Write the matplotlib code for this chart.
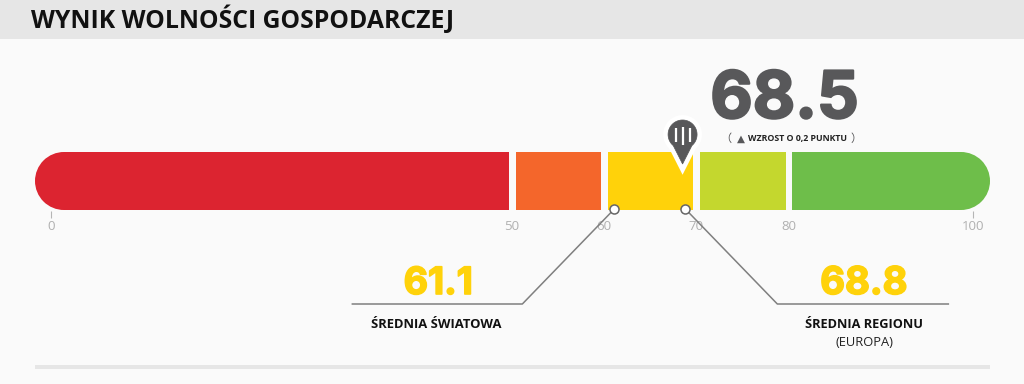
import matplotlib
matplotlib.use('Agg')
import matplotlib.pyplot as plt
import matplotlib.patheffects as pe
from matplotlib.patches import Ellipse, Polygon
import numpy as np

seg_start = [0, 50, 60, 70, 80]
seg_end = [50, 60, 70, 80, 100]
seg_colors = ['#DC2430', '#F4662B', '#FFD20A', '#C4D72E', '#6EBE4A']
tick_vals = [0, 50, 60, 70, 80, 100]
score = 68.5
world_avg = 61.1
region_avg = 68.8

PX = 9.22  # pixels per score point
X0 = 51    # pixel of score 0
GRAY = '#58585A'
LINE = '#7F7F7F'
YEL = '#FFD20A'
BODY = 'Open Sans'
NUM = 'Inter'


def dx(p):
    return p / PX


fig = plt.figure(figsize=(10.24, 3.84), dpi=100, facecolor='#FAFAFA')
ax = fig.add_axes([0, 0, 1, 1])
ax.set_xlim(-X0 / PX, (1024 - X0) / PX)
ax.set_ylim(384, 0)
ax.axis('off')

# header band and bottom rule
ax.barh(19, 1024 / PX, height=39, left=-X0 / PX, color='#E6E6E6', zorder=1)
ax.barh(367, dx(955), height=4, left=dx(35 - X0), color='#E6E6E6', zorder=1)
ax.text(dx(31 - X0), 19.5, 'WYNIK WOLNOŚCI GOSPODARCZEJ', family=BODY, weight='bold',
        fontsize=17.8, color='#111111', ha='left', va='center', zorder=2)

# segments, the first and last get round caps
for i in range(len(seg_start)):
    left = seg_start[i] + dx(3.5) if i > 0 else dx(13)
    right = seg_end[i] - dx(3) if i < len(seg_start) - 1 else seg_end[i] - dx(12)
    ax.barh(181, right - left, height=58, left=left, color=seg_colors[i], zorder=2, linewidth=0)
ax.add_patch(Ellipse((dx(13), 181), dx(58), 58, color=seg_colors[0], lw=0, zorder=2))
ax.add_patch(Ellipse((100 - dx(12), 181), dx(58), 58, color=seg_colors[-1], lw=0, zorder=2))

# tick labels
ax.vlines([0, 100], 211, 218, color='#B5B5B5', lw=0.8, zorder=2)
for t in tick_vals:
    ax.text(t, 226, str(t), family=BODY, fontsize=9.5, color='#B0B0B0',
            ha='center', va='center', zorder=2)

# pin
ang = np.radians(np.linspace(-50, 230, 50))
r = 14.5
pin_x = score + dx(1) * r * np.cos(ang)
pin_y = 134.5 - r * np.sin(ang)
pin = np.column_stack([np.r_[pin_x, score], np.r_[pin_y, 164]])
ax.add_patch(Polygon(pin, closed=True, fc='white', ec='white', lw=7, joinstyle='miter', zorder=3))
ax.add_patch(Polygon(pin, closed=True, fc=GRAY, ec=GRAY, lw=0.5, zorder=4))
ax.vlines([score - dx(7), score + dx(7)], 128, 142, color='white', lw=1.6, zorder=5)
ax.vlines([score], 127, 145, color='white', lw=1.6, zorder=5)

# main score
ax.text(score + dx(102), 101, str(score), family=NUM, weight='bold', fontsize=47,
        color=GRAY, ha='center', va='center', zorder=4,
        path_effects=[pe.withStroke(linewidth=1.6, foreground=GRAY)])
ax.text(score + dx(43), 138.5, '（', family='Noto Sans CJK SC', fontsize=8, color=GRAY,
        ha='center', va='center')
ax.text(score + dx(58), 139, '▲', family='DejaVu Sans', fontsize=7.5, color=GRAY,
        ha='center', va='center')
ax.text(score + dx(65), 139, 'WZROST O 0,2 PUNKTU', family=BODY, weight='bold', fontsize=6.3,
        color='#222222', ha='left', va='center')
ax.text(score + dx(173), 138.5, '）', family='Noto Sans CJK SC', fontsize=8, color=GRAY,
        ha='center', va='center')

# averages with leader lines
ax.plot([world_avg, world_avg - dx(92), world_avg - dx(262)], [209, 304, 304],
        color=LINE, lw=1.1, zorder=3)
ax.plot([region_avg, region_avg + dx(92), region_avg + dx(263)], [209, 304, 304],
        color=LINE, lw=1.1, zorder=3)
ax.plot([world_avg, region_avg], [209, 209], ls='none', marker='o', ms=6.5, mfc='white',
        mec='#666666', mew=1.1, zorder=6)

ax.text(world_avg - dx(176), 284, str(world_avg), family=NUM, weight='bold', fontsize=27,
        color=YEL, ha='center', va='center',
        path_effects=[pe.withStroke(linewidth=1.2, foreground=YEL)])
ax.text(region_avg + dx(178.5), 284, str(region_avg), family=NUM, weight='bold', fontsize=27.5,
        color=YEL, ha='center', va='center',
        path_effects=[pe.withStroke(linewidth=1.2, foreground=YEL)])
ax.text(world_avg - dx(178), 325, 'ŚREDNIA ŚWIATOWA', family=BODY, weight='bold', fontsize=9.4,
        color='#111111', ha='center', va='center')
ax.text(region_avg + dx(179), 325, 'ŚREDNIA REGIONU', family=BODY, weight='bold', fontsize=9.2,
        color='#111111', ha='center', va='center')
ax.text(region_avg + dx(179), 343, '(EUROPA)', family=BODY, fontsize=9.3,
        color='#222222', ha='center', va='center')

fig.savefig('out.png', dpi=100, facecolor=fig.get_facecolor())
